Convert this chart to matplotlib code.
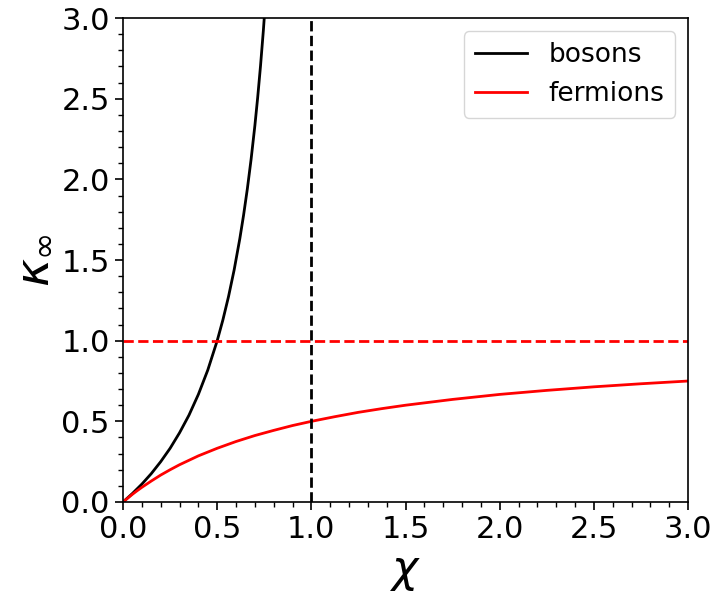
import numpy as np
from matplotlib import pyplot as plt
from matplotlib.ticker import MultipleLocator

# values
chi_b = [0.0, 0.05, 0.1, 0.15, 0.2, 0.25, 0.3, 0.35, 0.4, 0.45, 0.5, 0.53, 0.56,
         0.59, 0.62, 0.64, 0.66, 0.68, 0.70, 0.715, 0.73, 0.745, 0.76]
kappa_b = [0.0, 0.053, 0.111, 0.176, 0.25, 0.333, 0.429, 0.538, 0.667, 0.818, 1.0,
           1.128, 1.273, 1.439, 1.632, 1.778, 1.941, 2.125, 2.333, 2.509, 2.704,
           2.922, 3.167]

chi_f = [0.0, 0.025, 0.05, 0.075, 0.1, 0.15, 0.2, 0.25, 0.3, 0.4, 0.5, 0.6, 0.7,
         0.8, 0.9, 1.0, 1.125, 1.25, 1.375, 1.5, 1.75, 2.0, 2.25, 2.5, 2.75, 3.0]
kappa_f = [0.0, 0.024, 0.048, 0.070, 0.091, 0.130, 0.167, 0.2, 0.231, 0.286,
           0.333, 0.375, 0.412, 0.444, 0.474, 0.5, 0.529, 0.556, 0.579, 0.6,
           0.636, 0.667, 0.692, 0.714, 0.733, 0.75]

fig = plt.figure(figsize=(7.17, 6.03), dpi=100)
ax = fig.add_axes([0.1716, 0.1675, 0.788, 0.8025])

ax.plot(chi_b, kappa_b, "k-", lw=2, label="bosons")
ax.plot(chi_f, kappa_f, "r-", lw=2, label="fermions")
ax.axhline(1.0, color="r", ls="--", lw=2)
ax.axvline(1.0, color="k", ls="--", lw=2)

ax.set_xlim(0, 3)
ax.set_ylim(0, 3)
ax.xaxis.set_major_locator(MultipleLocator(0.5))
ax.yaxis.set_major_locator(MultipleLocator(0.5))
ax.xaxis.set_minor_locator(MultipleLocator(0.1))
ax.yaxis.set_minor_locator(MultipleLocator(0.1))
ax.tick_params(which="major", labelsize=22, length=6, width=1.2)
ax.tick_params(which="minor", length=3.5, width=1)
for s in ax.spines.values():
    s.set_linewidth(1.2)

ax.set_xlabel(r"$\chi$", fontsize=32)
ax.set_ylabel(r"$\kappa_\infty$", fontsize=34)
ax.legend(fontsize=19, loc="upper right")

fig.savefig("out.png", dpi=100)
